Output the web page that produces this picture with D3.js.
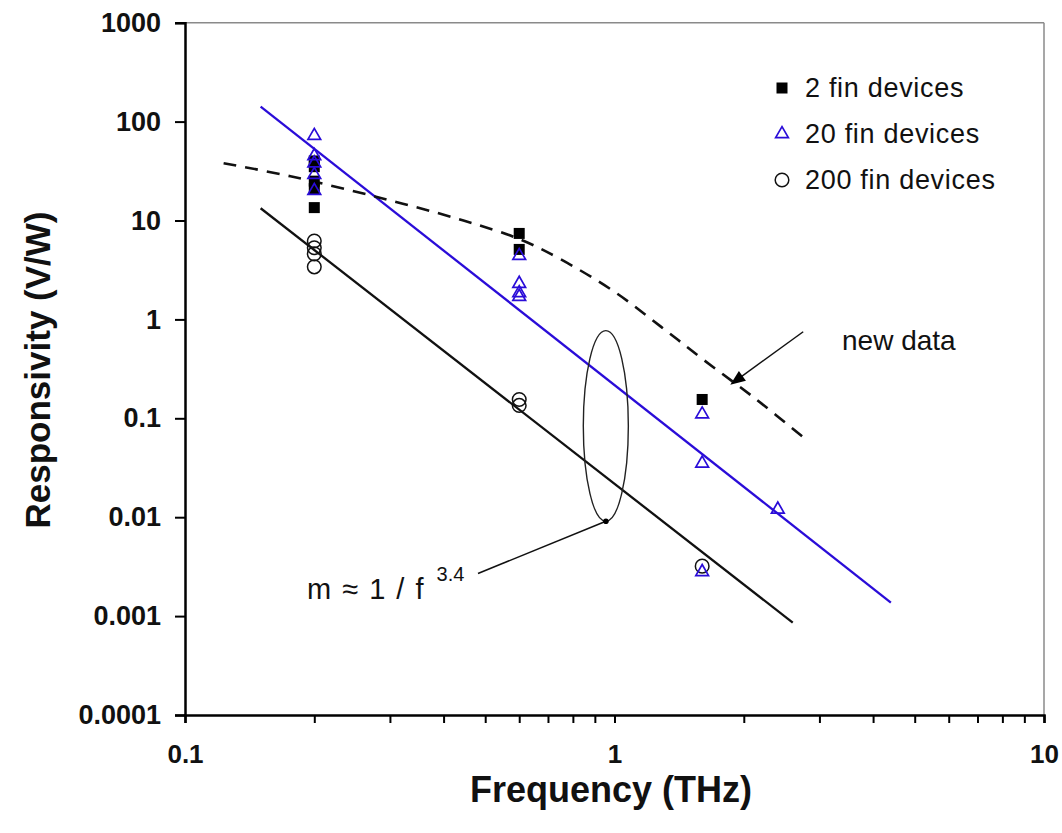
<!DOCTYPE html>
<html>
<head>
<meta charset="utf-8">
<script src="https://cdn.jsdelivr.net/npm/d3@7"></script>
<style>
  html, body { margin: 0; padding: 0; background: #fff; }
  svg { display: block; font-family: "Liberation Sans", Arial, sans-serif; }
</style>
</head>
<body>
<svg id="chart" width="1062" height="833"></svg>
<script>
// Measured responsivity per device type, as [frequency THz, responsivity V/W]
const twoFin = [[0.2, 40], [0.2, 35], [0.2, 25], [0.2, 21], [0.2, 13.5],
                [0.6, 7.4], [0.6, 5.1], [1.6, 0.155]];
const twentyFin = [[0.2, 72], [0.2, 45], [0.2, 38], [0.2, 29], [0.2, 20],
                   [0.6, 4.4], [0.6, 2.3], [0.6, 1.85], [0.6, 1.7],
                   [1.6, 0.11], [1.6, 0.035], [1.6, 0.0028], [2.4, 0.012]];
const twoHundredFin = [[0.2, 6.2], [0.2, 5.3], [0.2, 4.6], [0.2, 3.4],
                       [0.6, 0.155], [0.6, 0.135], [1.6, 0.0032]];

// Power-law fits (slope about -3.4 per decade) and the dashed trend of the new data
const fit20 = [[0.15, 142], [4.4, 0.00137]];
const fit200 = [[0.15, 13.3], [2.6, 0.00086]];
const trend = [[0.123, 38], [0.176, 28], [0.284, 17], [0.445, 10], [0.6, 6.5],
               [0.746, 4.1], [1.0, 1.9], [1.28, 0.85], [1.6, 0.4], [2.14, 0.155], [2.78, 0.062]];

// Axis ticks
const yTicks = [1000, 100, 10, 1, 0.1, 0.01, 0.001, 0.0001];
const yTickLabels = ["1000", "100", "10", "1", "0.1", "0.01", "0.001", "0.0001"];
const xMajor = [0.1, 1, 10];
const xMajorLabels = ["0.1", "1", "10"];
const xMinor = [0.2, 0.3, 0.4, 0.5, 0.6, 0.7, 0.8, 0.9, 2, 3, 4, 5, 6, 7, 8, 9];

const legendNames = ["2 fin devices", "20 fin devices", "200 fin devices"];

// Annotation anchors in data coordinates
const ellipseBox = { f0: 0.846, f1: 1.077, r0: 0.0091, r1: 0.77 };
const leaderFrom = [0.955, 0.0091];
const leaderTo = [0.481, 0.0027];
const arrowFrom = [2.75, 0.75];
const arrowTip = [1.86, 0.219];

const BLUE = "#2a0cd8";
const FONT = "Liberation Sans, Arial, sans-serif";

const svg = d3.select("#chart");
const x = d3.scaleLog().domain([0.1, 10]).range([185, 1044]);
const y = d3.scaleLog().domain([0.0001, 1000]).range([715, 22.7]);

// Frame: light top and right borders
svg.append("line").attr("x1", x(0.1)).attr("x2", x(10)).attr("y1", y(1000)).attr("y2", y(1000))
  .attr("stroke", "#8a8a8a").attr("stroke-width", 1.5);
svg.append("line").attr("x1", x(10)).attr("x2", x(10)).attr("y1", y(1000)).attr("y2", y(0.0001))
  .attr("stroke", "#8a8a8a").attr("stroke-width", 1.5);

// Y axis
const yAxis = svg.append("g").attr("transform", `translate(${x(0.1)},0)`)
  .call(d3.axisLeft(y).tickValues(yTicks).tickFormat((d, i) => yTickLabels[i]).tickSize(10).tickPadding(14));
yAxis.select(".domain").attr("stroke", "#000").attr("stroke-width", 2.5);
yAxis.selectAll(".tick line").attr("stroke", "#000").attr("stroke-width", 2);
yAxis.selectAll(".tick text").attr("font-size", 27).attr("font-weight", "bold")
  .attr("font-family", FONT).attr("fill", "#111");

// X axis: minor ticks, then major ticks with labels
const xMinorAxis = svg.append("g").attr("transform", `translate(0,${y(0.0001)})`)
  .call(d3.axisBottom(x).tickValues(xMinor).tickFormat("").tickSize(8));
xMinorAxis.select(".domain").remove();
xMinorAxis.selectAll(".tick line").attr("stroke", "#000").attr("stroke-width", 2);

const xAxis = svg.append("g").attr("transform", `translate(0,${y(0.0001)})`)
  .call(d3.axisBottom(x).tickValues(xMajor).tickFormat((d, i) => xMajorLabels[i]).tickSize(8).tickPadding(22));
xAxis.select(".domain").attr("stroke", "#000").attr("stroke-width", 2.5);
xAxis.selectAll(".tick line").attr("stroke", "#000").attr("stroke-width", 2);
xAxis.selectAll(".tick text").attr("font-size", 26).attr("font-weight", "bold")
  .attr("font-family", FONT).attr("fill", "#111");

// Axis titles
svg.append("text").attr("x", 611).attr("y", 802).attr("text-anchor", "middle")
  .attr("font-size", 36).attr("font-weight", "bold").attr("fill", "#111")
  .text("Frequency (THz)");
svg.append("text").attr("transform", "translate(50,370) rotate(-90)").attr("text-anchor", "middle")
  .attr("font-size", 35).attr("font-weight", "bold").attr("fill", "#111")
  .text("Responsivity (V/W)");

// Lines
const line = d3.line().x(d => x(d[0])).y(d => y(d[1]));
svg.append("path").attr("d", line(fit20)).attr("fill", "none").attr("stroke", BLUE).attr("stroke-width", 2.3);
svg.append("path").attr("d", line(fit200)).attr("fill", "none").attr("stroke", "#111").attr("stroke-width", 2.3);
svg.append("path").attr("d", d3.line().x(d => x(d[0])).y(d => y(d[1])).curve(d3.curveCatmullRom)(trend))
  .attr("fill", "none").attr("stroke", "#111").attr("stroke-width", 2.6).attr("stroke-dasharray", "13,9");

// Markers
const sq = 11, tri = 70, circR = 6.8;
svg.append("g").selectAll("circle").data(twoHundredFin).join("circle")
  .attr("cx", d => x(d[0])).attr("cy", d => y(d[1])).attr("r", circR)
  .attr("fill", "none").attr("stroke", "#111").attr("stroke-width", 1.5);
svg.append("g").selectAll("rect").data(twoFin).join("rect")
  .attr("x", d => x(d[0]) - sq / 2).attr("y", d => y(d[1]) - sq / 2)
  .attr("width", sq).attr("height", sq).attr("fill", "#000");
const triSym = d3.symbol().type(d3.symbolTriangle).size(tri);
svg.append("g").selectAll("path").data(twentyFin).join("path")
  .attr("transform", d => `translate(${x(d[0])},${y(d[1])})`).attr("d", triSym)
  .attr("fill", "none").attr("stroke", BLUE).attr("stroke-width", 1.7);

// Legend
const lg = svg.append("g");
legendNames.forEach((name, i) => {
  const ly = 88 + i * 46;
  if (i === 0) lg.append("rect").attr("x", 782 - sq / 2).attr("y", ly - sq / 2).attr("width", sq).attr("height", sq).attr("fill", "#000");
  if (i === 1) lg.append("path").attr("transform", `translate(782,${ly})`).attr("d", triSym)
    .attr("fill", "none").attr("stroke", BLUE).attr("stroke-width", 1.7);
  if (i === 2) lg.append("circle").attr("cx", 782).attr("cy", ly).attr("r", circR)
    .attr("fill", "none").attr("stroke", "#111").attr("stroke-width", 1.5);
  lg.append("text").attr("x", 805).attr("y", ly + 9).attr("font-size", 27).attr("fill", "#111")
    .attr("letter-spacing", 0.7).text(name);
});

// Ellipse annotation around the fitted lines near 1 THz
const ex0 = x(ellipseBox.f0), ex1 = x(ellipseBox.f1), ey0 = y(ellipseBox.r1), ey1 = y(ellipseBox.r0);
svg.append("ellipse").attr("cx", (ex0 + ex1) / 2).attr("cy", (ey0 + ey1) / 2)
  .attr("rx", (ex1 - ex0) / 2).attr("ry", (ey1 - ey0) / 2)
  .attr("fill", "none").attr("stroke", "#222").attr("stroke-width", 1.4);
svg.append("line").attr("x1", x(leaderFrom[0])).attr("y1", y(leaderFrom[1]))
  .attr("x2", x(leaderTo[0])).attr("y2", y(leaderTo[1])).attr("stroke", "#111").attr("stroke-width", 1.5);
svg.append("circle").attr("cx", x(leaderFrom[0])).attr("cy", y(leaderFrom[1])).attr("r", 2.8).attr("fill", "#000");

const slopeText = svg.append("text").attr("x", 307).attr("y", 599).attr("font-size", 29)
  .attr("word-spacing", 3).attr("fill", "#111");
slopeText.append("tspan").text("m \u2248 1 / f ");
slopeText.append("tspan").attr("font-size", 20).attr("dy", -18).attr("dx", 2).text("3.4");

// "new data" arrow
const ax0 = x(arrowFrom[0]), ay0 = y(arrowFrom[1]), ax1 = x(arrowTip[0]), ay1 = y(arrowTip[1]);
const ang = Math.atan2(ay1 - ay0, ax1 - ax0);
const hl = 15, hw = 6;
svg.append("line").attr("x1", ax0).attr("y1", ay0)
  .attr("x2", ax1 - Math.cos(ang) * hl * 0.8).attr("y2", ay1 - Math.sin(ang) * hl * 0.8)
  .attr("stroke", "#111").attr("stroke-width", 1.5);
const bx = ax1 - Math.cos(ang) * hl, by = ay1 - Math.sin(ang) * hl;
svg.append("path").attr("d", `M${ax1},${ay1}L${bx - Math.sin(ang) * hw},${by + Math.cos(ang) * hw}L${bx + Math.sin(ang) * hw},${by - Math.cos(ang) * hw}Z`)
  .attr("fill", "#000");
svg.append("text").attr("x", 842).attr("y", 350).attr("font-size", 28).attr("fill", "#111").text("new data");
</script>
</body>
</html>
